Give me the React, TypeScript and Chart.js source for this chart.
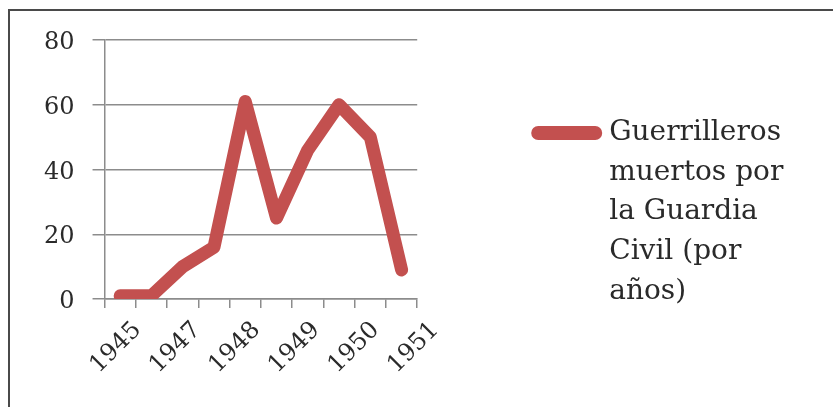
import { useEffect, useRef } from 'react';
import { Chart, registerables } from 'chart.js';

Chart.register(...registerables);

// Ten plotted periods; only the year labels below are printed on the axis.
const PERIODS = ['1', '2', '3', '4', '5', '6', '7', '8', '9', '10'];
const KILLED = [1, 1, 10, 16, 61, 25, 46, 60, 50, 9];

// Year labels, evenly spread along the bottom axis.
const X_LABELS = ['1945', '1947', '1948', '1949', '1950', '1951'];
const LABEL_AXIS_MIN = -0.554;
const LABEL_AXIS_MAX = 4.698;

const Y_MIN = 0;
const Y_MAX = 80;
const Y_STEP = 20;

const LEGEND_LINES = ['Guerrilleros', 'muertos por', 'la Guardia', 'Civil (por', 'años)'];

const RED = '#C3504F';
const GRID = '#8C8C8C';
const TEXT = '#2A2A2A';
const FONT = "'DejaVu Serif', serif";

export default function App() {
  const canvasRef = useRef<HTMLCanvasElement>(null);

  useEffect(() => {
    const canvas = canvasRef.current;
    if (!canvas) return;
    const chart = new Chart(canvas, {
      type: 'line',
      data: {
        labels: PERIODS,
        datasets: [
          {
            label: LEGEND_LINES.join(' '),
            data: KILLED,
            borderColor: RED,
            backgroundColor: RED,
            borderWidth: 13,
            pointRadius: 0,
            pointHoverRadius: 0,
            tension: 0,
            fill: false,
            borderJoinStyle: 'round',
            borderCapStyle: 'round',
          },
        ],
      },
      options: {
        responsive: false,
        animation: false,
        events: [],
        layout: { padding: { top: 40, left: 26, right: 42, bottom: 11 } },
        scales: {
          x: {
            type: 'category',
            offset: true,
            weight: 0,
            grid: {
              offset: true,
              drawOnChartArea: false,
              drawTicks: true,
              tickLength: 9,
              color: GRID,
              lineWidth: 1.5,
            },
            border: { display: true, color: GRID, width: 1.5 },
            ticks: { display: false },
          },
          x2: {
            type: 'linear',
            position: 'bottom',
            weight: 1,
            min: LABEL_AXIS_MIN,
            max: LABEL_AXIS_MAX,
            grid: { display: false },
            border: { display: false },
            afterBuildTicks: (scale: any) => {
              scale.ticks = X_LABELS.map((_, i) => ({ value: i }));
            },
            afterFit: (scale: any) => {
              // rotated year labels may hang past the plot edges without widening it
              scale.height = 88;
              scale.paddingLeft = 0;
              scale.paddingRight = 0;
            },
            ticks: {
              autoSkip: false,
              minRotation: 45,
              maxRotation: 45,
              padding: 0,
              color: TEXT,
              font: { family: FONT, size: 24 },
              callback: (_v: any, i: number) => X_LABELS[i],
            },
          },
          y: {
            min: Y_MIN,
            max: Y_MAX,
            ticks: {
              stepSize: Y_STEP,
              padding: 18,
              labelOffset: 3,
              color: TEXT,
              font: { family: FONT, size: 24 },
            },
            grid: { color: GRID, lineWidth: 1.5, tickLength: 12 },
            border: { display: true, color: GRID, width: 1.5 },
          },
        },
        plugins: {
          tooltip: { enabled: false },
          legend: {
            position: 'right',
            maxWidth: 600,
            labels: {
              boxWidth: 57,
              boxHeight: 0,
              padding: 121,
              color: TEXT,
              font: { family: FONT, size: 28, lineHeight: 1.414 },
              generateLabels: () => [
                {
                  text: LEGEND_LINES as any,
                  fillStyle: RED,
                  strokeStyle: RED,
                  fontColor: TEXT,
                  lineWidth: 14,
                  lineCap: 'round',
                  lineJoin: 'round',
                  hidden: false,
                  datasetIndex: 0,
                } as any,
              ],
            },
          },
        },
      } as any,
    });
    return () => chart.destroy();
  }, []);

  return (
    <>
      <div
        style={{
          position: 'fixed',
          left: 8,
          top: 9,
          right: 0,
          bottom: 0,
          borderLeft: '2px solid #4A4A4A',
          borderTop: '2px solid #4A4A4A',
          background: '#FFFFFF',
        }}
      />
      <div style={{ position: 'fixed', left: 0, top: 0, width: 833, height: 407 }}>
        <canvas ref={canvasRef} width={833} height={407} style={{ width: 833, height: 407 }} />
      </div>
    </>
  );
}
